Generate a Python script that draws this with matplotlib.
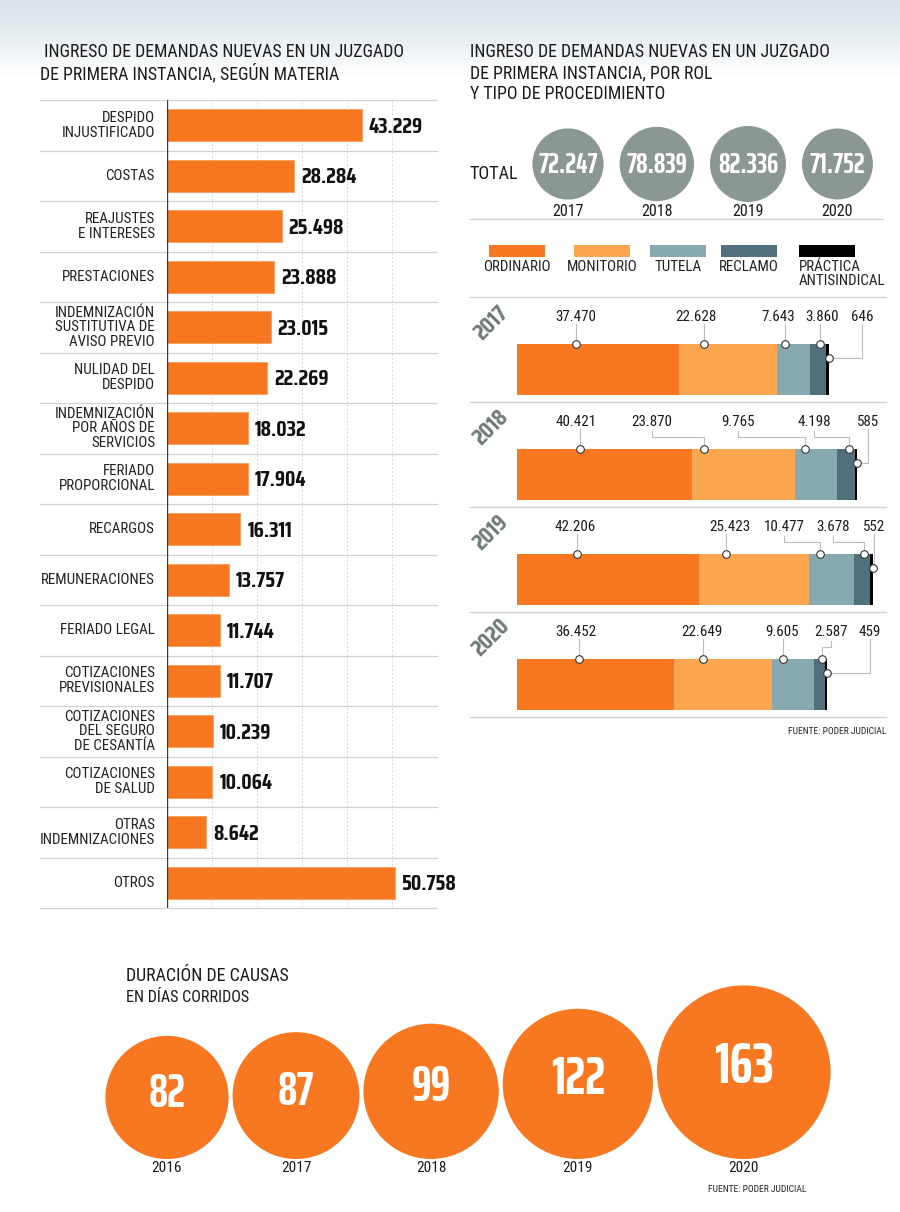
import os
import numpy as np
import matplotlib
matplotlib.use('Agg')
import matplotlib.pyplot as plt
from matplotlib import font_manager as fm
from matplotlib.patches import Circle, Rectangle

# ---------------- data ----------------
MATERIAS = ["DESPIDO\nINJUSTIFICADO", "COSTAS", "REAJUSTES\nE INTERESES", "PRESTACIONES",
            "INDEMNIZACIÓN\nSUSTITUTIVA DE\nAVISO PREVIO", "NULIDAD DEL\nDESPIDO",
            "INDEMNIZACIÓN\nPOR AÑOS DE\nSERVICIOS", "FERIADO\nPROPORCIONAL", "RECARGOS",
            "REMUNERACIONES", "FERIADO LEGAL", "COTIZACIONES\nPREVISIONALES",
            "COTIZACIONES\nDEL SEGURO\nDE CESANTÍA", "COTIZACIONES\nDE SALUD",
            "OTRAS\nINDEMNIZACIONES", "OTROS"]
MATERIA_VALUES = [43229, 28284, 25498, 23888, 23015, 22269, 18032, 17904, 16311,
                  13757, 11744, 11707, 10239, 10064, 8642, 50758]

YEARS = ["2017", "2018", "2019", "2020"]
TOTALS = [72247, 78839, 82336, 71752]
PROCEDIMIENTOS = ["ORDINARIO", "MONITORIO", "TUTELA", "RECLAMO", "PRÁCTICA\nANTISINDICAL"]
ORDINARIO = [37470, 40421, 42206, 36452]
MONITORIO = [22628, 23870, 25423, 22649]
TUTELA = [7643, 9765, 10477, 9605]
RECLAMO = [3860, 4198, 3678, 2587]
PRACTICA = [646, 585, 552, 459]

DUR_YEARS = ["2016", "2017", "2018", "2019", "2020"]
DUR_DAYS = [82, 87, 99, 122, 163]

# ---------------- style ----------------
ORANGE = '#f77820'
PROC_COLORS = ['#f77820', '#fca74f', '#88a9b0', '#51707c', '#000000']
GREY_CIRCLE = '#8b9795'
LINE = '#d2d2d2'
TXT = '#1a1a1a'

W, H = 900, 1212


def fmt(v):
    return f"{v:,}".replace(",", ".")


FILES = {os.path.basename(f.fname).lower(): f.fname for f in fm.fontManager.ttflist}


def pick(cands, family, weight):
    for c in cands:
        p = FILES.get(c.lower())
        if p:
            return dict(path=p)
    return dict(family=family, weight=weight)


REG = pick(['RobotoCondensed-Regular.ttf', 'NotoSans-Condensed.ttf',
            'DejaVuSansCondensed.ttf'], 'DejaVu Sans', 'normal')
NUM = pick(['SairaCondensed-Bold.ttf', 'RobotoCondensed-Bold.ttf',
            'DejaVuSansCondensed-Bold.ttf'], 'DejaVu Sans', 'bold')
NUMX = pick(['SairaExtraCondensed-Bold.ttf', 'SairaCondensed-Bold.ttf',
             'RobotoCondensed-Bold.ttf', 'DejaVuSansCondensed-Bold.ttf'], 'DejaVu Sans', 'bold')


def F(spec, size):
    if 'path' in spec:
        return fm.FontProperties(fname=spec['path'], size=size)
    return fm.FontProperties(family=spec['family'], weight=spec['weight'], size=size)


fig = plt.figure(figsize=(W / 100, H / 100), dpi=100)
fig.patch.set_facecolor('white')


def px_axes(x0, y0, x1, y1, z=1):
    return fig.add_axes([x0 / W, 1 - y1 / H, (x1 - x0) / W, (y1 - y0) / H], zorder=z)


# background axes in pixel units
bg = px_axes(0, 0, W, H, z=0)
bg.set_xlim(0, W)
bg.set_ylim(H, 0)
bg.axis('off')

g = np.linspace(0, 1, 120)[:, None, None] ** 1.3
top = np.array([0.855, 0.895, 0.915])[None, None, :]
img = top * (1 - g) + 1.0 * g
bg.imshow(img, extent=[0, W, 78, 0], aspect='auto', zorder=0)

# ---------------- left chart ----------------
bg.text(40, 63, " INGRESO DE DEMANDAS NUEVAS EN UN JUZGADO\nDE PRIMERA INSTANCIA, SEGÚN MATERIA",
        ha='left', va='center', fontproperties=F(REG, 12.8), color=TXT, linespacing=1.2)

axL = px_axes(167, 100, 437, 908)
n = len(MATERIAS)
ypos = np.arange(n) + 0.5
axL.set_xlim(0, 60000)
axL.set_ylim(n, 0)
axL.axis('off')
for gx in range(10000, 60001, 10000):
    axL.axvline(gx, color='#d9d9d9', lw=0.7, ls=(0, (2, 2)), zorder=1)
axL.barh(ypos, MATERIA_VALUES, height=0.64, color=ORANGE, edgecolor='#fb9d5c',
         linewidth=0.6, zorder=3)
axL.axvline(0, color='#3a3a3a', lw=1.0, zorder=4)
trY = axL.get_yaxis_transform()
x_left = (40 - 167) / (437 - 167)
for yy in range(n + 1):
    axL.plot([x_left, 1], [yy, yy], transform=trY, color=LINE, lw=0.9,
             clip_on=False, zorder=2)
for y, lab, v in zip(ypos, MATERIAS, MATERIA_VALUES):
    axL.text((155 - 167) / 270, y, lab, transform=trY, ha='right', va='center',
             fontproperties=F(REG, 10.8), color='#222222', linespacing=1.05)
    axL.annotate(fmt(v), (v, y), xytext=(5, -1), textcoords='offset points',
                 ha='left', va='center', fontproperties=F(NUM, 15.5), color='#111111')

# ---------------- right: totals ----------------
bg.text(470, 73, "INGRESO DE DEMANDAS NUEVAS EN UN JUZGADO\nDE PRIMERA INSTANCIA, POR ROL\nY TIPO DE PROCEDIMIENTO",
        ha='left', va='center', fontproperties=F(REG, 12.8), color=TXT, linespacing=1.2)
bg.text(470, 174, "TOTAL", ha='left', va='center', fontproperties=F(REG, 13), color=TXT)

rk = 38 / np.sqrt(max(TOTALS))
radii = [rk * np.sqrt(t) for t in TOTALS]
cx = 568.0
for i, (yr, t, r) in enumerate(zip(YEARS, TOTALS, radii)):
    if i > 0:
        cx += radii[i - 1] + 16 + r
    bg.add_patch(Circle((cx, 164), r, color=GREY_CIRCLE, lw=0, zorder=2))
    bg.text(cx, 165, fmt(t), ha='center', va='center', fontproperties=F(NUMX, 20.5),
            color='white', zorder=3)
    bg.text(cx, 211, yr, ha='center', va='center', fontproperties=F(REG, 11.5), color=TXT)
bg.plot([470, 883], [219, 219], color=LINE, lw=1)

# legend
sw_cx = [517, 602, 678, 749, 827]
for i, (lab, c, x) in enumerate(zip(PROCEDIMIENTOS, PROC_COLORS, sw_cx)):
    bg.add_patch(Rectangle((x - 28, 245), 56, 12, color=c, lw=0))
    if i < 4:
        bg.text(x, 267, lab, ha='center', va='center', fontproperties=F(REG, 10.8),
                color='#222222')
    else:
        bg.text(x - 28, 260, lab, ha='left', va='top', fontproperties=F(REG, 10.8),
                color='#222222', linespacing=1.0)

# ---------------- right: stacked bars ----------------
K = 4.318e-3          # px per demand
X0 = 517              # px where bars start
axR = px_axes(470, 297, 886, 717)
axR.set_xlim((470 - X0) / K, (886 - X0) / K)
axR.set_ylim(717, 297)
axR.axis('off')

ROW_PITCH, BAR_H, FIRST_TOP = 105, 51, 344
bar_top = [FIRST_TOP + ROW_PITCH * i for i in range(len(YEARS))]
bar_c = [t + BAR_H / 2 for t in bar_top]
series = [ORDINARIO, MONITORIO, TUTELA, RECLAMO, PRACTICA]
left = np.zeros(len(YEARS))
for s, c in zip(series, PROC_COLORS):
    axR.barh(bar_c, s, left=left, height=BAR_H, color=c, lw=0, zorder=2)
    left = left + np.array(s)
totals_calc = left

for y in [297] + [t + 58 for t in bar_top]:
    axR.plot(axR.get_xlim(), [y, y], color=LINE, lw=1, clip_on=False, zorder=1)

# annotation layout (px)
LABEL_PX = [[576, 696, 778, 822, 862], [576, 652, 738, 814, 868],
            [575, 730, 784, 833, 874], [576, 702, 782, 831, 870]]
MARK_PX = [[576, 704, 785, 820], [580, 704, 805, 849],
           [577, 726, 820, 864], [579, 703, 783, 822]]


def d(px):
    return (px - X0) / K


LC = '#bdbdbd'
for i, yr in enumerate(YEARS):
    tp = bar_top[i]
    vals = [s[i] for s in series]
    ly = tp - 27
    lbot = tp - 20
    ey = tp - 12
    axR.text(d(491), tp - 21, yr, rotation=45, ha='center', va='center',
             fontproperties=F(NUM, 16.5), color='#6d7a78', clip_on=False)
    mxs, mys = [], []
    for j in range(4):
        lx, mx = LABEL_PX[i][j], MARK_PX[i][j]
        axR.text(d(lx), ly, fmt(vals[j]), ha='center', va='center',
                 fontproperties=F(REG, 10.8), color=TXT)
        if abs(lx - mx) <= 8:
            axR.plot([d(mx), d(mx)], [lbot, tp], color=LC, lw=0.8, zorder=3)
        else:
            axR.plot([d(lx), d(lx), d(mx), d(mx)], [lbot + 2, ey, ey, tp],
                     color=LC, lw=0.8, zorder=3)
        mxs.append(d(mx))
        mys.append(tp)
    lx = LABEL_PX[i][4]
    axR.text(d(lx), ly, fmt(vals[4]), ha='center', va='center',
             fontproperties=F(REG, 10.8), color=TXT)
    py = tp + 14
    axR.plot([totals_calc[i], d(lx), d(lx)], [py, py, lbot], color=LC, lw=0.8, zorder=3,
             clip_on=False)
    mxs.append(totals_calc[i])
    mys.append(py)
    axR.scatter(mxs, mys, s=30, facecolor='white', edgecolor='#333333', lw=0.8,
                zorder=5, clip_on=False)

bg.text(886, 731, "FUENTE: PODER JUDICIAL", ha='right', va='center',
        fontproperties=F(REG, 6.8), color='#222222')

# ---------------- bottom: duration ----------------
bg.text(126, 976, "DURACIÓN DE CAUSAS", ha='left', va='center',
        fontproperties=F(REG, 12.9), color=TXT)
bg.text(126, 998, "EN DÍAS CORRIDOS", ha='left', va='center',
        fontproperties=F(REG, 11.6), color=TXT)

BASE = 1159
dk = 6.8
dr = [dk * np.sqrt(v) for v in DUR_DAYS]
cx = 167.0
for i, (yr, v, r) in enumerate(zip(DUR_YEARS, DUR_DAYS, dr)):
    if i > 0:
        cx += dr[i - 1] + 4 + r
    cy = BASE - r
    bg.add_patch(Circle((cx, cy), r, color=ORANGE, lw=0, zorder=2))
    bg.text(cx, cy - 0.06 * r, str(v), ha='center', va='center',
            fontproperties=F(NUMX, 34 + (r - 61.6) * 0.32), color='white', zorder=3)
    bg.text(cx, 1168, yr, ha='center', va='center', fontproperties=F(REG, 11),
            color=TXT)

bg.text(757, 1189, "FUENTE: PODER JUDICIAL", ha='center', va='center',
        fontproperties=F(REG, 6.8), color='#222222')

fig.savefig('out.png', dpi=100, facecolor='white')
